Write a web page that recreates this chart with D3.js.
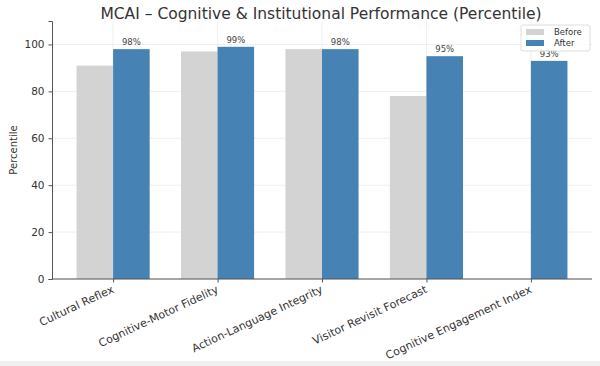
<!DOCTYPE html>
<html><head><meta charset="utf-8">
<script src="https://cdn.jsdelivr.net/npm/d3@7"></script>
<style>body{margin:0;background:#fff}svg{display:block}text{font-family:"DejaVu Sans",sans-serif}</style>
</head><body>
<svg id="c" width="600" height="366"></svg>
<script>
const categories = ["Cultural Reflex","Cognitive-Motor Fidelity","Action-Language Integrity","Visitor Revisit Forecast","Cognitive Engagement Index"];
const beforeVals = [91, 97, 98, 78, null];
const afterVals = [98, 99, 98, 95, 93];
const yTicks = [0,20,40,60,80,100];
const seriesNames = ["Before","After"];
const colors = {Before:"#d3d3d3", After:"#4682b4"};

const svg = d3.select("#c");
svg.append("rect").attr("x",0).attr("y",0).attr("width",600).attr("height",366).attr("fill","#fff");
svg.append("rect").attr("x",0).attr("y",361).attr("width",600).attr("height",5).attr("fill","#f0f0f0");
const L=52,R=592,T=21,B=279;
const bw=0.35;
const x = d3.scaleLinear().domain([-0.585,4.585]).range([L,R]);
const y = d3.scaleLinear().domain([0,110]).range([B,T]);
const g = svg.append("g");
// grid
g.selectAll(".hg").data(yTicks).enter().append("line")
 .attr("x1",L).attr("x2",R).attr("y1",d=>y(d)).attr("y2",d=>y(d)).attr("stroke","#ebebeb").attr("stroke-width",0.8);
g.selectAll(".vg").data(categories).enter().append("line")
 .attr("x1",(d,i)=>x(i)).attr("x2",(d,i)=>x(i)).attr("y1",T).attr("y2",B).attr("stroke","#ebebeb").attr("stroke-width",0.8);
// bars
categories.forEach((c,i)=>{
  if(beforeVals[i]!=null){
    g.append("rect").attr("x",x(i-bw)).attr("width",x(bw)-x(0)).attr("y",y(beforeVals[i])).attr("height",B-y(beforeVals[i])).attr("fill",colors.Before);
  }
  g.append("rect").attr("x",x(i)).attr("width",x(bw)-x(0)).attr("y",y(afterVals[i])).attr("height",B-y(afterVals[i])).attr("fill",colors.After);
  g.append("text").attr("x",x(i+bw/2)).attr("y",y(afterVals[i])-4).attr("text-anchor","middle")
   .attr("font-size",8.5).attr("fill","#444").text(afterVals[i]+"%");
});
// axes
const ya = d3.axisLeft(y).tickValues(yTicks).tickSize(3.5).tickPadding(4);
const yg = svg.append("g").attr("transform",`translate(${L},0)`).call(ya);
yg.select(".domain").attr("stroke","#555");
yg.selectAll(".tick line").attr("stroke","#555");
yg.selectAll("text").attr("font-size",10.5).attr("fill","#333");
const xa = d3.axisBottom(x).tickValues(d3.range(categories.length)).tickFormat(i=>categories[i]).tickSize(3.5).tickSizeOuter(0);
const xg = svg.append("g").attr("transform",`translate(0,${B})`).call(xa);
xg.select(".domain").attr("stroke","#555").attr("d",`M${L},0H${R}`);
xg.selectAll(".tick line").attr("stroke","#555");
xg.selectAll("text").attr("font-size",11).attr("fill","#333").attr("text-anchor","end")
  .attr("dy",0).attr("y",0).attr("transform","translate(1,13) rotate(-25)");
// labels
svg.append("text").attr("x",321).attr("y",19).attr("text-anchor","middle").attr("font-size",15.5).attr("fill","#333")
 .text("MCAI – Cognitive & Institutional Performance (Percentile)");
svg.append("text").attr("transform","translate(17,150) rotate(-90)").attr("text-anchor","middle").attr("font-size",10).attr("fill","#333").text("Percentile");
// legend
const lg = svg.append("g").attr("transform","translate(521,25)");
lg.append("rect").attr("width",69).attr("height",26).attr("fill","#fff").attr("fill-opacity",0.8).attr("stroke","#ddd").attr("rx",2);
seriesNames.forEach((s,i)=>{
  lg.append("rect").attr("x",5).attr("y",4+i*11).attr("width",18).attr("height",6).attr("fill",colors[s]);
  lg.append("text").attr("x",33).attr("y",10+i*11).attr("font-size",8.5).attr("fill","#333").text(s);
});
</script>
</body></html>
